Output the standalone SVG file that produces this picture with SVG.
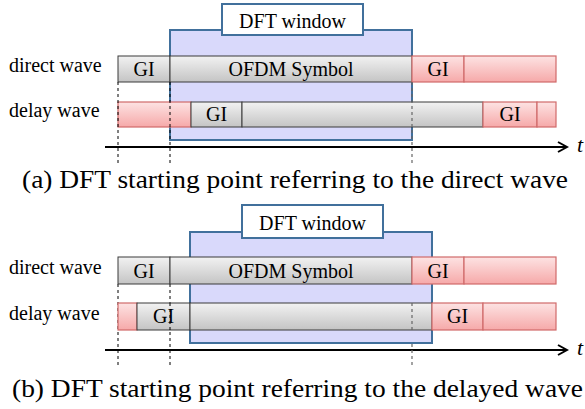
<svg xmlns="http://www.w3.org/2000/svg" width="585" height="409" viewBox="0 0 585 409">
<defs>
<linearGradient id="gGray" x1="0" y1="0" x2="0" y2="1">
<stop offset="0" stop-color="#f2f2f2"/>
<stop offset="1" stop-color="#c4c4c4"/>
</linearGradient>
<linearGradient id="gPink" x1="0" y1="0" x2="0" y2="1">
<stop offset="0" stop-color="#fde3e3"/>
<stop offset="1" stop-color="#f6a9a9"/>
</linearGradient>
<marker id="arr" markerWidth="12" markerHeight="12" refX="10" refY="6" orient="auto" markerUnits="userSpaceOnUse">
<path d="M1,1 L10,6 L1,11" fill="none" stroke="#000" stroke-width="2"/>
</marker>
</defs>
<style>
text{font-family:'Liberation Serif','Times New Roman',serif;fill:#000}
.lbl{font-size:20px}
.box{font-size:20px;text-anchor:middle}
.cap{font-size:26px}
.tt{font-size:22px;font-style:italic}
.gray{fill:url(#gGray);stroke:#3a3a3a;stroke-width:1}
.pink{fill:url(#gPink);stroke:#d06a6a;stroke-width:1.2}
.win{fill:#d9d9fb;stroke:#41709c;stroke-width:2}
.tab{fill:#fff;stroke:#41709c;stroke-width:2}
.dash{stroke:#000;stroke-width:1;stroke-dasharray:3,3;fill:none}
.dashg{stroke:#666;stroke-width:1.2;stroke-dasharray:3,3;fill:none}
.axis{stroke:#000;stroke-width:2;fill:none}
</style>

<!-- Panel (a) -->
<g id="a-window">
<rect class="win" x="170" y="30" width="242" height="110"/>
<rect class="tab" x="222" y="4" width="141" height="31"/>
<text x="292.5" y="28" font-size="20" text-anchor="middle">DFT window</text>
</g>
<g id="a-direct">
<text class="lbl" x="9" y="72">direct wave</text>
<rect class="gray" x="118" y="56" width="52" height="26"/>
<text class="box" x="144" y="76">GI</text>
<rect class="gray" x="170" y="56" width="242" height="26"/>
<text class="box" x="291" y="76">OFDM Symbol</text>
<rect class="pink" x="412" y="56" width="52" height="26"/>
<text class="box" x="438" y="76">GI</text>
<rect class="pink" x="464" y="56" width="92" height="26"/>
</g>
<g id="a-delay">
<text class="lbl" x="9" y="117">delay wave</text>
<rect class="pink" x="118" y="102" width="73" height="25"/>
<rect class="gray" x="191" y="102" width="51" height="25"/>
<text class="box" x="216.5" y="121">GI</text>
<rect class="gray" x="242" y="102" width="241" height="25"/>
<rect class="pink" x="483" y="102" width="54" height="25"/>
<text class="box" x="510" y="121">GI</text>
<rect class="pink" x="537" y="102" width="19" height="25"/>
</g>
<g id="connectors">
<line class="axis" x1="105" y1="147" x2="567" y2="147" marker-end="url(#arr)"/>
<line class="dash" x1="118" y1="82" x2="118" y2="166"/>
<line class="dash" x1="170" y1="82" x2="170" y2="166"/>
<line class="dashg" x1="412" y1="82" x2="412" y2="166"/>
<line class="axis" x1="105" y1="350" x2="567" y2="350" marker-end="url(#arr)"/>
<line class="dash" x1="118" y1="284" x2="118" y2="367"/>
<line class="dash" x1="170" y1="284" x2="170" y2="367"/>
<line class="dashg" x1="412" y1="284" x2="412" y2="367"/>
</g>
<text class="tt" x="577" y="152">t</text>
<text class="cap" x="22" y="188" textLength="546" lengthAdjust="spacingAndGlyphs">(a) DFT starting point referring to the direct wave</text>

<!-- Panel (b) -->
<g id="b-window">
<rect class="win" x="190" y="232" width="242" height="111"/>
<rect class="tab" x="242" y="205" width="141" height="33"/>
<text x="312.5" y="230" font-size="20" text-anchor="middle">DFT window</text>
</g>
<g id="b-direct">
<text class="lbl" x="9" y="274">direct wave</text>
<rect class="gray" x="118" y="257" width="52" height="27"/>
<text class="box" x="144" y="278">GI</text>
<rect class="gray" x="170" y="257" width="242" height="27"/>
<text class="box" x="291" y="278">OFDM Symbol</text>
<rect class="pink" x="412" y="257" width="52" height="27"/>
<text class="box" x="438" y="278">GI</text>
<rect class="pink" x="464" y="257" width="92" height="27"/>
</g>
<g id="b-delay">
<text class="lbl" x="9" y="320">delay wave</text>
<rect class="pink" x="118" y="303" width="19" height="27"/>
<rect class="gray" x="137" y="303" width="53" height="27"/>
<text class="box" x="163.5" y="323">GI</text>
<rect class="gray" x="190" y="303" width="242" height="27"/>
<rect class="pink" x="432" y="303" width="51" height="27"/>
<text class="box" x="457.5" y="323">GI</text>
<rect class="pink" x="483" y="303" width="73" height="27"/>
</g>
<g id="b-dash-top">
<line class="dash" x1="170" y1="303" x2="170" y2="330"/>
<line class="dashg" x1="412" y1="303" x2="412" y2="330"/>
</g>
<text class="tt" x="577" y="355">t</text>
<text class="cap" x="12" y="397" textLength="571" lengthAdjust="spacingAndGlyphs">(b) DFT starting point referring to the delayed wave</text>
</svg>
